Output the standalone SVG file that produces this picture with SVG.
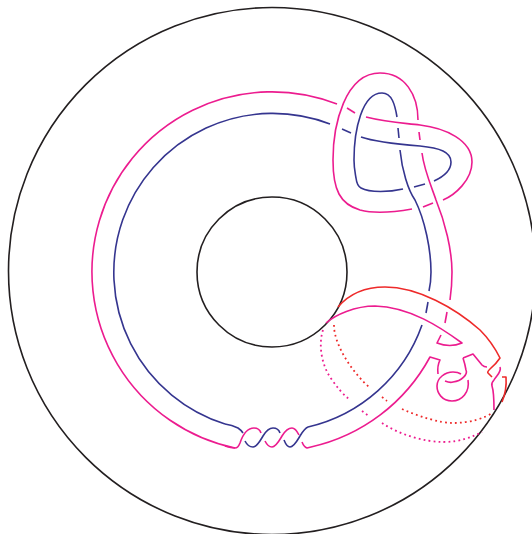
<svg xmlns="http://www.w3.org/2000/svg" width="532" height="534" viewBox="0 0 532 534">
<style>
path,circle{fill:none;stroke-width:1.6;stroke-linecap:butt;stroke-linejoin:round}
.k{stroke:#231f20}
.p{stroke:#ec1c8f}
.b{stroke:#35358f}
.r{stroke:#ee2a2a}
.d{stroke-width:1.8;stroke-dasharray:1.8 3.2}
</style>
<rect width="532" height="534" fill="#fff"/>
<g id="circles">
<circle class="k" cx="272" cy="271" r="263.5"/>
<circle class="k" cx="272" cy="272" r="75"/>
</g>
<g id="pink-strand">
<path class="p" d="M225 446 Q231 448 235 448 Q238 448 240 443 C243 434 247 428 254 428 C258 428 260 430 261 433"/>
<path class="p" d="M265 441 C267 445 270 447 272 447 C276 447 279 441 282 436 C285 431 288 428 292 428 C295 428 297 431 299 435"/>
<path class="p" d="M302 442 Q304 447 307 448 L311 447 A180 180 0 0 0 430 357 L440 360 Q437 366 438 374"/>
<path class="p" d="M235 448 A180 180 0 1 1 337 104"/>
<path class="p" d="M347 108 L355 113"/>
<path class="p" d="M366 117 C390 123 405 123 420 125 C445 128 472 140 472 162 C472 180 455 195 443 200"/>
<path class="p" d="M433 203 L423 207"/>
<path class="p" d="M412 209 C395 212 375 214 360 210 C340 204 333 190 333 160 C333 125 345 73 380 73 C405 73 418 95 418 120"/>
<path class="p" d="M419 132 L420 140"/>
<path class="p" d="M422 153 C424 170 432 188 436 200 C445 222 452 250 452 272 C452 282 451.5 290 450 300"/>
<path class="p" d="M447 312 L445 323"/>
<path class="p" d="M441 335 L437 343 Q450 348 462 343 C440 327 410 307 375 306 C355 306 335 315 326 323"/>
<path class="p" d="M463 358 L473 354 L482 365 Q484 367 487 367"/>
<path class="p" d="M468 380 C470 392 462 401 452 401 C442 401 437 393 437 386 C437 378 445 372 453 372 Q458 372 461 374"/>
<path class="p" d="M445 381 Q450 383 453 382 C462 381 468 374 466 370 Q465 364 463 358"/>
<path class="p" d="M500 367 C502 372 496 376 494 380 Q491 383 492 386 C494 392 494 402 494 410"/>
</g>
<g id="blue-strand">
<path class="b" d="M225 424 Q232 425 238 428 Q241 430 243 433"/>
<path class="b" d="M245 441 C247 445 250 447 253 447 C257 447 260 441 263 436 C266 431 269 428 273 428 C277 428 279 430 280 433"/>
<path class="b" d="M284 440 C286 445 288 447 290 447 C294 447 297 441 300 436 C303 431 305 428 308 427 A159 159 0 0 0 422 325"/>
<path class="b" d="M225 424 A159 159 0 1 1 330 124"/>
<path class="b" d="M342 129 L351 133"/>
<path class="b" d="M361 137 C375 142 395 144 420 146 C440 148 451 152 451 162 C451 170 445 176 434 181"/>
<path class="b" d="M425 184 L414 187"/>
<path class="b" d="M403 189 C390 192 370 193 361 188 Q357 186 356 178 C355 172 354 168 354 160 C354 130 362 93 382 93 C392 93 395 105 397 117"/>
<path class="b" d="M398 128 L399 138"/>
<path class="b" d="M400 150 C402 170 408 190 415 200 C425 220 431 250 431 272 Q431 282 429 291"/>
<path class="b" d="M428 302 L426 313"/>
</g>
<g id="red-strand">
<path class="r" d="M338 307 C350 293 365 287 385 287 C418 287 455 308 480 330 Q492 342 500 358 Q496 364 490 369 Q487 372 488 373 L492 377"/>
<path class="r" d="M502 377 L506 377 Q507 390 502 402"/>
<path class="r d" d="M334 325 C334 345 352 372 370 388"/>
<path class="r d" d="M382 397 L387 401"/>
<path class="r d" d="M402 409 C420 417 440 423 453 423 C470 423 485 418 492 413"/>
</g>
<g id="pink-dotted">
<path class="p d" d="M323 330 C318 345 322 365 330 377 Q340 392 350 400"/>
<path class="p d" d="M362 411 L370 417"/>
<path class="p d" d="M382 423 C400 435 425 442 443 442 C460 442 472 437 482 432"/>
</g>
</svg>
